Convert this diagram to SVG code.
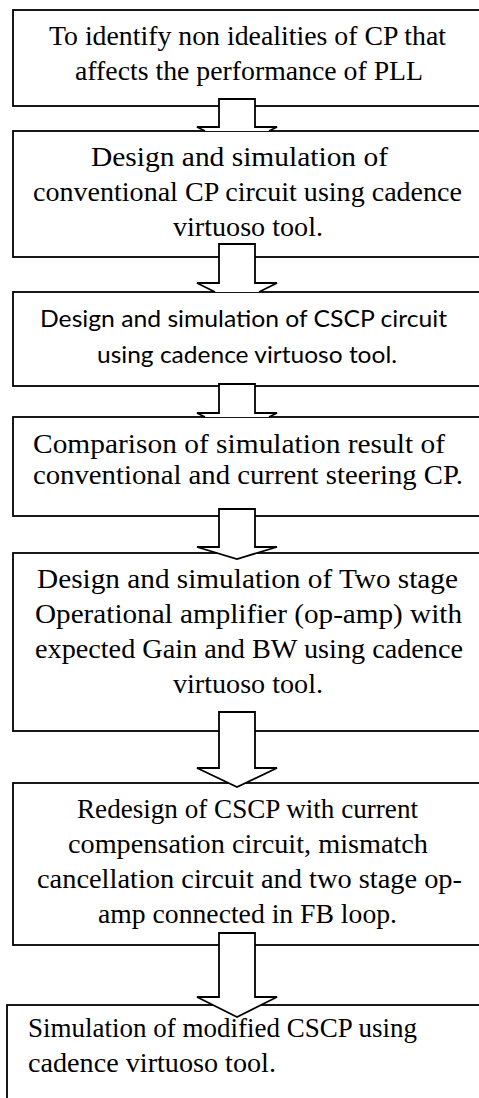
<svg xmlns="http://www.w3.org/2000/svg" width="479" height="1098" viewBox="0 0 479 1098">
<style>
.box{fill:#fff;stroke:#000;stroke-width:1.8}
.arr{fill:#fff;stroke:#000;stroke-width:1.8;stroke-linejoin:miter}
.t{font-family:"Liberation Serif","Times New Roman",serif;font-size:26.5px;fill:#000}
.s{font-family:Lato,"Liberation Sans",sans-serif;font-size:24px;fill:#000}
</style>
<rect width="479" height="1098" fill="#fff"/>
<g id="n1">
<rect class="box" x="13" y="10" width="475" height="96"/>
<text class="t" x="49" y="45" textLength="397" lengthAdjust="spacingAndGlyphs">To identify non idealities of CP that</text>
<text class="t" x="75" y="80" textLength="348" lengthAdjust="spacingAndGlyphs">affects the performance of PLL</text>
</g>
<g id="n2">
<rect class="box" x="13" y="131" width="475" height="126"/>
<text class="t" x="91" y="166" textLength="297" lengthAdjust="spacingAndGlyphs">Design and simulation of</text>
<text class="t" x="33" y="201" textLength="429" lengthAdjust="spacingAndGlyphs">conventional CP circuit using cadence</text>
<text class="t" x="173" y="236" textLength="150" lengthAdjust="spacingAndGlyphs">virtuoso tool.</text>
</g>
<g id="n3">
<rect class="box" x="13" y="292" width="475" height="94"/>
<text class="s" x="40" y="327" textLength="407" lengthAdjust="spacingAndGlyphs">Design and simulation of CSCP circuit</text>
<text class="s" x="97" y="363" textLength="300" lengthAdjust="spacingAndGlyphs">using cadence virtuoso tool.</text>
</g>
<g id="n4">
<rect class="box" x="13" y="417" width="475" height="99"/>
<text class="t" x="33" y="453" textLength="412" lengthAdjust="spacingAndGlyphs">Comparison of simulation result of</text>
<text class="t" x="33" y="484" textLength="430" lengthAdjust="spacingAndGlyphs">conventional and current steering CP.</text>
</g>
<g id="n5">
<rect class="box" x="13" y="553" width="475" height="178"/>
<text class="t" x="37" y="588" textLength="421" lengthAdjust="spacingAndGlyphs">Design and simulation of Two stage</text>
<text class="t" x="35" y="623" textLength="427" lengthAdjust="spacingAndGlyphs">Operational amplifier (op-amp) with</text>
<text class="t" x="35" y="658" textLength="428" lengthAdjust="spacingAndGlyphs">expected Gain and BW using cadence</text>
<text class="t" x="173" y="693" textLength="150" lengthAdjust="spacingAndGlyphs">virtuoso tool.</text>
</g>
<g id="n6">
<rect class="box" x="13" y="783" width="475" height="162"/>
<text class="t" x="77" y="818" textLength="341" lengthAdjust="spacingAndGlyphs">Redesign of CSCP with current</text>
<text class="t" x="68" y="853" textLength="360" lengthAdjust="spacingAndGlyphs">compensation circuit, mismatch</text>
<text class="t" x="37" y="888" textLength="425" lengthAdjust="spacingAndGlyphs">cancellation circuit and two stage op-</text>
<text class="t" x="98" y="923" textLength="299" lengthAdjust="spacingAndGlyphs">amp connected in FB loop.</text>
</g>
<g id="n7">
<rect class="box" x="7" y="1005" width="481" height="110"/>
<text class="t" x="28" y="1037" textLength="389" lengthAdjust="spacingAndGlyphs">Simulation of modified CSCP using</text>
<text class="t" x="28" y="1072" textLength="248" lengthAdjust="spacingAndGlyphs">cadence virtuoso tool.</text>
</g>
<g id="connectors">
<path class="arr" d="M205,131 L197,127 L219,127 L219,99 L255,99 L255,127 L277,127 L269,131"/>
<path class="arr" d="M215,292 L197,283 L219,283 L219,244 L255,244 L255,283 L277,283 L259,292"/>
<path class="arr" d="M205,417 L197,413 L219,413 L219,384 L255,384 L255,413 L277,413 L269,417"/>
<path class="arr" d="M219,509 L255,509 L255,547 L277,547 L237,559 L197,547 L219,547 Z"/>
<path class="arr" d="M219,712 L255,712 L255,768 L277,768 L237,787 L197,768 L219,768 Z"/>
<path class="arr" d="M219,933 L255,933 L255,997 L277,997 L237,1017 L197,997 L219,997 Z"/>
</g>
</svg>
